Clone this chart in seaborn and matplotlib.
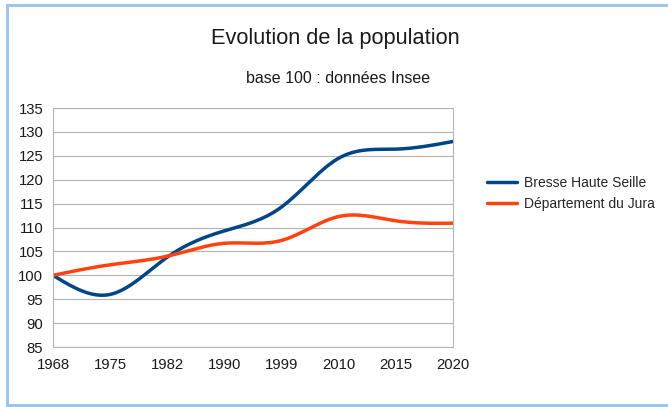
import numpy as np
import pandas as pd
import seaborn as sns
import matplotlib.pyplot as plt
from matplotlib.lines import Line2D

years = ["1968", "1975", "1982", "1990", "1999", "2010", "2015", "2020"]
bresse = [100, 96.0, 103.8, 109.3, 114.3, 124.5, 126.4, 128.0]
jura = [100, 102.2, 104.0, 106.7, 107.3, 112.3, 111.4, 110.9]
names = ["Bresse Haute Seille", "Département du Jura"]
colors = ["#004586", "#ff420e"]


def spline(y, n=30):
    # natural cubic spline over category positions (like the "smooth line" option)
    y = np.asarray(y, dtype=float)
    k = len(y)
    x = np.arange(k, dtype=float)
    A = np.zeros((k, k))
    r = np.zeros(k)
    A[0, 0] = A[-1, -1] = 1
    for i in range(1, k - 1):
        A[i, i - 1], A[i, i], A[i, i + 1] = 1, 4, 1
        r[i] = 6 * (y[i + 1] - 2 * y[i] + y[i - 1])
    m = np.linalg.solve(A, r)
    xs, ys = [], []
    for i in range(k - 1):
        t = np.linspace(0, 1, n, endpoint=(i == k - 2))
        a = y[i]
        b = y[i + 1] - y[i] - (2 * m[i] + m[i + 1]) / 6
        c = m[i] / 2
        d = (m[i + 1] - m[i]) / 6
        xs.extend(x[i] + t)
        ys.extend(a + b * t + c * t ** 2 + d * t ** 3)
    return np.array(xs), np.array(ys)


rows = []
for name, vals in zip(names, [bresse, jura]):
    xs, ys = spline(vals)
    rows.append(pd.DataFrame({"x": xs, "y": ys, "serie": name}))
data = pd.concat(rows)

sns.set_style("white")
plt.rcParams["font.family"] = ["Liberation Sans", "DejaVu Sans"]

fig = plt.figure(figsize=(6.68, 4.07), dpi=100)
ax = fig.add_axes([0.0793, 0.1474, 0.5989, 0.5872])
sns.lineplot(data=data, x="x", y="y", hue="serie", palette=colors, linewidth=2.5,
             ax=ax, legend=False, sort=False)

ax.set_xlim(0, len(years) - 1)
ax.set_ylim(85, 135)
ax.set_xticks(range(len(years)))
ax.set_xticklabels(years)
ax.set_yticks(range(85, 136, 5))
ax.set_xlabel("")
ax.set_ylabel("")
ax.yaxis.grid(True, color="#b3b3b3", linewidth=0.8)
ax.set_axisbelow(True)
for s in ax.spines.values():
    s.set_color("#b3b3b3")
    s.set_linewidth(0.8)
ax.spines["top"].set_visible(False)
ax.tick_params(axis="both", colors="#b3b3b3", length=5, width=0.8, labelsize=10.7,
               labelcolor="#1a1a1a", direction="out")
ax.tick_params(axis="x", pad=3)
ax.tick_params(axis="y", pad=2)

fig.text(0.502, 0.905, "Evolution de la population", ha="center", va="center",
         fontsize=15.7, color="#1a1a1a")
fig.text(0.506, 0.807, "base 100 : données Insee", ha="center", va="center",
         fontsize=11.5, color="#1a1a1a")

handles = [Line2D([], [], color=c, linewidth=2.5) for c in colors]
fig.legend(handles, names, loc="center left", bbox_to_anchor=(0.71, 0.524),
           frameon=False, fontsize=10, handlelength=2.2, handletextpad=0.45,
           labelspacing=0.5)

# light blue frame (left, top, bottom)
frame = "#9fc5e8"
fig.add_artist(Line2D([0.0105, 0.0105], [0.005, 0.9875], color=frame, linewidth=2.2,
                      transform=fig.transFigure))
fig.add_artist(Line2D([0.0105, 1.0], [0.9875, 0.9875], color=frame, linewidth=2.2,
                      transform=fig.transFigure))
fig.add_artist(Line2D([0.0105, 1.0], [0.005, 0.005], color=frame, linewidth=2.2,
                      transform=fig.transFigure))

fig.savefig("out.png", dpi=100)
